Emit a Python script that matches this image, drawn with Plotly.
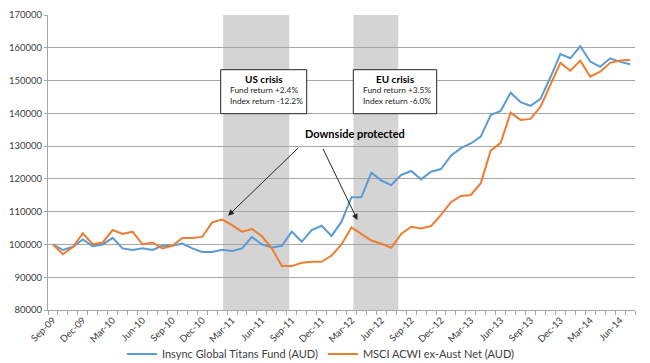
import plotly.graph_objects as go

months = ["Sep-09","Oct-09","Nov-09","Dec-09","Jan-10","Feb-10","Mar-10","Apr-10","May-10","Jun-10",
          "Jul-10","Aug-10","Sep-10","Oct-10","Nov-10","Dec-10","Jan-11","Feb-11","Mar-11","Apr-11",
          "May-11","Jun-11","Jul-11","Aug-11","Sep-11","Oct-11","Nov-11","Dec-11","Jan-12","Feb-12",
          "Mar-12","Apr-12","May-12","Jun-12","Jul-12","Aug-12","Sep-12","Oct-12","Nov-12","Dec-12",
          "Jan-13","Feb-13","Mar-13","Apr-13","May-13","Jun-13","Jul-13","Aug-13","Sep-13","Oct-13",
          "Nov-13","Dec-13","Jan-14","Feb-14","Mar-14","Apr-14","May-14","Jun-14","Jul-14"]

fund = [100000, 98300, 99300, 101500, 99500, 100000, 102000, 98800, 98300, 98800,
        98300, 99600, 99600, 100250, 98800, 97700, 97700, 98400, 98000, 98800,
        102300, 100000, 99100, 99600, 103900, 100800, 104400, 105700, 102600, 106950,
        114400, 114400, 121900, 119500, 118100, 121200, 122400, 119850, 122200, 123000,
        127100, 129400, 130800, 132900, 139500, 140700, 146300, 143400, 142300, 144400,
        151000, 158100, 156800, 160500, 155800, 154200, 156800, 155700, 155000]

index = [100000, 97000, 99200, 103400, 100100, 100600, 104400, 103200, 103900, 100000,
         100600, 98800, 99600, 102000, 102000, 102300, 106750, 107600, 105900, 103900,
         104700, 102500, 98800, 93400, 93400, 94400, 94700, 94700, 96600, 100000,
         105200, 103200, 101200, 100200, 99000, 103200, 105400, 104900, 105600, 109000,
         112900, 114800, 115100, 118700, 128600, 131000, 140200, 138000, 138300, 142000,
         148600, 155400, 153000, 156100, 151200, 152700, 155400, 156100, 156300]

series_names = ["Insync Global Titans Fund (AUD)", "MSCI ACWI ex-Aust Net (AUD)"]
y_ticks = [80000, 90000, 100000, 110000, 120000, 130000, 140000, 150000, 160000, 170000]

x = list(range(len(months)))
FONT = "Lato"
TXT = "#404040"

# plot area in pixels: left 48, right 635, top 15, bottom 310
L, R, T, B = 48, 635, 15, 310
def px(p):
    return (p - L) / (R - L)
def py(p):
    return (B - p) / (B - T)

fig = go.Figure()
fig.add_trace(go.Scatter(x=x, y=fund, mode="lines", name=series_names[0],
                         line=dict(color="#5b9bd5", width=2)))
fig.add_trace(go.Scatter(x=x, y=index, mode="lines", name=series_names[1],
                         line=dict(color="#ed7d31", width=2)))

shapes = []
# crisis shading
for x0, x1 in [(17.1, 23.75), (30.2, 34.7)]:
    shapes.append(dict(type="rect", xref="x", yref="paper", x0=x0, x1=x1, y0=0, y1=1,
                       fillcolor="#d4d4d4", line=dict(width=0), layer="below"))
# text boxes
for bx0, bx1 in [(220.7, 306.7), (353.3, 436.7)]:
    shapes.append(dict(type="rect", xref="paper", yref="paper", x0=px(bx0), x1=px(bx1),
                       y0=py(113.7), y1=py(69.7), fillcolor="white",
                       line=dict(color="#262626", width=1), layer="above"))

ann = []
for cx, head, lx, l1, l2 in [(263.5, "US crisis", 228, "Fund return +2.4%", "Index return -12.2%"),
                             (395, "EU crisis", 361.3, "Fund return +3.5%", "Index return -6.0%")]:
    ann.append(dict(xref="paper", yref="paper", x=px(cx), y=py(79), text="<b>" + head + "</b>",
                    showarrow=False, xanchor="center", yanchor="middle",
                    font=dict(family=FONT, size=10, color="black")))
    ann.append(dict(xref="paper", yref="paper", x=px(lx), y=py(90.5), text=l1,
                    showarrow=False, xanchor="left", yanchor="middle",
                    font=dict(family=FONT, size=8.3, color="#262626")))
    ann.append(dict(xref="paper", yref="paper", x=px(lx), y=py(101), text=l2,
                    showarrow=False, xanchor="left", yanchor="middle",
                    font=dict(family=FONT, size=8.3, color="#262626")))

ann.append(dict(xref="paper", yref="paper", x=px(355), y=py(133), text="<b>Downside protected</b>",
                showarrow=False, xanchor="center", yanchor="middle",
                font=dict(family=FONT, size=11, color="black")))
for hx, hy, tx, ty in [(17.6, 108770, 24.8, 129880), (30.6, 107460, 27.07, 129630)]:
    ann.append(dict(xref="x", yref="y", x=hx, y=hy, axref="x", ayref="y", ax=tx, ay=ty,
                    text="", showarrow=True, arrowhead=2, arrowsize=1.2, arrowwidth=1,
                    arrowcolor="#262626"))

fig.update_layout(
    width=650, height=363,
    margin=dict(l=L, r=650 - R, t=T, b=363 - B, autoexpand=False),
    paper_bgcolor="white", plot_bgcolor="white",
    shapes=shapes, annotations=ann,
    showlegend=True,
    legend=dict(orientation="h", x=0.465, xanchor="center", y=py(354), yanchor="middle",
                font=dict(family=FONT, size=11, color=TXT), itemwidth=30,
                bgcolor="rgba(0,0,0,0)"),
    font=dict(family=FONT, color=TXT),
)
fig.update_xaxes(
    automargin=False,
    range=[-0.5, len(months) - 0.5], tickmode="array",
    tickvals=x[::3], ticktext=months[::3], tickangle=-45,
    tickfont=dict(family=FONT, size=9.5, color=TXT),
    showgrid=False, zeroline=False,
    showline=True, linecolor="#a6a6a6", linewidth=1,
    ticks="", ticklen=0,
    minor=dict(tickmode="linear", tick0=-0.5, dtick=1, ticks="outside", ticklen=4,
               tickcolor="#a6a6a6", showgrid=False),
)
fig.update_yaxes(
    automargin=False,
    range=[80000, 170000], tickmode="array", tickvals=y_ticks,
    ticktext=[str(v) for v in y_ticks],
    tickfont=dict(family=FONT, size=9.5, color=TXT),
    showgrid=True, gridcolor="#a6a6a6", gridwidth=1, zeroline=False,
    showline=True, linecolor="#a6a6a6", linewidth=1,
    ticks="outside", ticklen=3, tickcolor="#a6a6a6",
)

fig.write_html("out.html", config={"displayModeBar": False},
               post_script="document.body.style.margin='0';")
